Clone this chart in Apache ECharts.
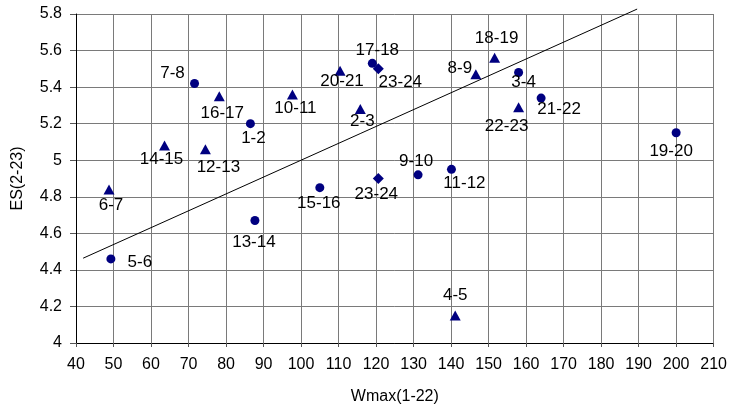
<!DOCTYPE html>
<html><head><meta charset="utf-8">
<script src="https://cdn.jsdelivr.net/npm/echarts@6/dist/echarts.min.js"></script>
<style>html,body{margin:0;padding:0;background:#fff}#c{width:730px;height:411px}</style>
</head><body><div id="c"></div>
<script>
// Circles
var circleNames = ['7-8','1-2','17-18','3-4','21-22','19-20','11-12','9-10','15-16','5-6','13-14'];
var circleX =     [71.6, 86.5, 119.0, 158.0, 164.0, 200.0, 140.1, 131.2, 105.0, 49.3, 87.7];
var circleY =     [5.42, 5.20, 5.53, 5.48, 5.34, 5.15, 4.95, 4.92, 4.85, 4.46, 4.67];
// Triangles
var triNames = ['16-17','14-15','12-13','10-11','20-21','2-3','8-9','18-19','22-23','4-5','6-7'];
var triX =     [78.2, 63.6, 74.5, 97.7, 110.4, 115.8, 146.6, 151.6, 158.0, 141.1, 48.8];
var triY =     [5.35, 5.08, 5.06, 5.36, 5.49, 5.28, 5.47, 5.56, 5.29, 4.15, 4.84];
// Diamonds
var diaNames = ['23-24','23-24'];
var diaX =     [120.6, 120.6];
var diaY =     [5.50, 4.90];
// Trend line endpoints
var trendX = [41.9, 189.6];
var trendY = [4.464, 5.827];
// Axis ticks
var xTicks = {min: 40, max: 210, step: 10};
var yTicks = {min: 4, max: 5.8, step: 0.2};

// label offsets (styling) [dx, dy] from marker centre
var circleOff = [[-22,-10],[3,15],[5,-13],[5,10],[18,11],[-5,19],[13,14],[-2,-14],[-1,16],[29,3],[-1,22]];
var triOff = [[3,17],[-3,14],[13,18],[3,14],[2,11],[2,12],[-16,-6],[2,-20],[-12,19],[0,-20],[2,16]];
var diaOff = [[22,13],[-2,16]];

function build(names, xs, ys, offs) {
  return names.map(function (n, i) {
    return {name: n, value: [xs[i], ys[i]],
      label: {offset: offs[i]}};
  });
}
var font = 'Liberation Sans, Arial, sans-serif';
var labelBase = {show: true, position: 'inside', align: 'center', verticalAlign: 'middle',
  formatter: '{b}', color: '#000', fontSize: 17, fontFamily: font};
var navy = '#000080';

var chart = echarts.init(document.getElementById('c'));
chart.setOption({
  animation: false,
  grid: {left: 76, right: 12, top: 14, bottom: 68},
  xAxis: {type: 'value', min: xTicks.min, max: xTicks.max, interval: xTicks.step,
    name: 'Wmax(1-22)', nameLocation: 'middle', nameGap: 46,
    nameTextStyle: {color: '#000', fontSize: 16, fontFamily: font},
    axisLine: {lineStyle: {color: '#000', width: 1}},
    axisTick: {show: true, length: 4, lineStyle: {color: '#555'}},
    axisLabel: {color: '#000', fontSize: 16, fontFamily: font, margin: 14},
    splitLine: {show: true, lineStyle: {color: '#7a7a7a', width: 1}}},
  yAxis: {type: 'value', min: yTicks.min, max: yTicks.max, interval: yTicks.step,
    name: 'ES(2-23)', nameLocation: 'middle', nameGap: 50, nameRotate: 90,
    nameTextStyle: {color: '#000', fontSize: 16, fontFamily: font},
    axisLine: {show: true, lineStyle: {color: '#000', width: 1}},
    axisTick: {show: true, length: 6, lineStyle: {color: '#555'}},
    axisLabel: {color: '#000', fontSize: 16, fontFamily: font, margin: 14,
      formatter: function (v) { return String(Math.round(v * 10) / 10); }},
    splitLine: {show: true, lineStyle: {color: '#7a7a7a', width: 1}}},
  series: [
    {type: 'line', data: trendX.map(function (x, i) { return [x, trendY[i]]; }),
     showSymbol: false, symbol: 'none', clip: false, lineStyle: {color: '#000', width: 1}, silent: true, z: 1},
    {type: 'scatter', symbol: 'circle', symbolSize: 9, itemStyle: {color: navy, opacity: 1},
     label: labelBase, data: build(circleNames, circleX, circleY, circleOff), z: 3},
    {type: 'scatter', symbol: 'triangle', symbolSize: [11, 10], itemStyle: {color: navy, opacity: 1},
     label: labelBase, data: build(triNames, triX, triY, triOff), z: 3},
    {type: 'scatter', symbol: 'diamond', symbolSize: 11, itemStyle: {color: navy, opacity: 1},
     label: labelBase, data: build(diaNames, diaX, diaY, diaOff), z: 3}
  ]
});
</script></body></html>
